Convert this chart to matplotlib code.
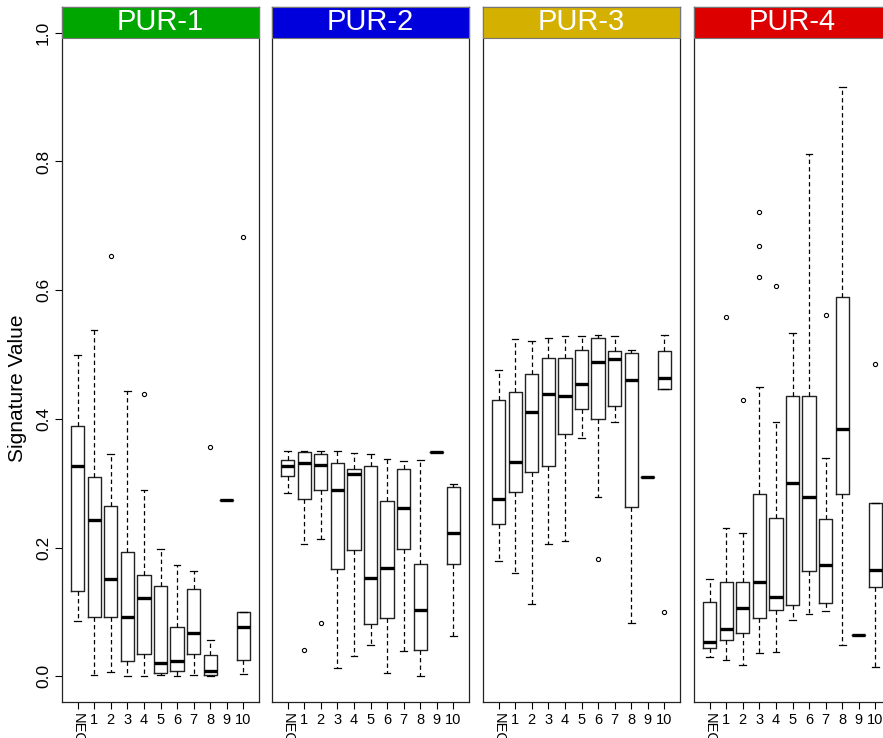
import matplotlib
matplotlib.use("Agg")
import matplotlib.pyplot as plt
from matplotlib.patches import Rectangle

plt.rcParams['font.family'] = ['Liberation Sans', 'DejaVu Sans']

categories = ["NEC", "1", "2", "3", "4", "5", "6", "7", "8", "9", "10"]
panel_titles = ["PUR-1", "PUR-2", "PUR-3", "PUR-4"]
panel_colors = ["#00A600", "#0000DD", "#D4B000", "#DD0000"]

# box stats: whisker low, q1, median, q3, whisker high
pur1_lo = [0.086, 0.002, 0.006, 0.000, 0.000, 0.002, 0.000, 0.002, 0.000, 0.274, 0.003]
pur1_q1 = [0.132, 0.092, 0.092, 0.024, 0.035, 0.005, 0.008, 0.035, 0.002, 0.274, 0.025]
pur1_med = [0.327, 0.243, 0.151, 0.092, 0.122, 0.020, 0.023, 0.068, 0.008, 0.274, 0.077]
pur1_q3 = [0.389, 0.310, 0.265, 0.193, 0.158, 0.141, 0.076, 0.136, 0.033, 0.274, 0.100]
pur1_hi = [0.499, 0.538, 0.346, 0.444, 0.290, 0.197, 0.173, 0.163, 0.056, 0.274, 0.100]
pur1_out = [[], [], [0.653], [], [0.438], [], [], [], [0.357], [], [0.683]]

pur2_lo = [0.285, 0.206, 0.214, 0.0135, 0.031, 0.048, 0.005, 0.040, 0.000, 0.349, 0.062]
pur2_q1 = [0.311, 0.276, 0.289, 0.167, 0.196, 0.081, 0.090, 0.198, 0.041, 0.349, 0.175]
pur2_med = [0.327, 0.332, 0.328, 0.289, 0.314, 0.152, 0.168, 0.262, 0.103, 0.349, 0.223]
pur2_q3 = [0.336, 0.348, 0.345, 0.332, 0.322, 0.326, 0.272, 0.322, 0.175, 0.349, 0.294]
pur2_hi = [0.350, 0.350, 0.350, 0.350, 0.347, 0.345, 0.338, 0.335, 0.336, 0.349, 0.298]
pur2_out = [[], [0.041], [0.083], [], [], [], [], [], [], [], []]

pur3_lo = [0.179, 0.161, 0.112, 0.206, 0.210, 0.370, 0.278, 0.395, 0.083, 0.310, 0.447]
pur3_q1 = [0.237, 0.286, 0.317, 0.327, 0.376, 0.415, 0.399, 0.420, 0.263, 0.310, 0.447]
pur3_med = [0.275, 0.333, 0.411, 0.438, 0.435, 0.454, 0.488, 0.493, 0.461, 0.310, 0.463]
pur3_q3 = [0.429, 0.442, 0.470, 0.495, 0.494, 0.507, 0.525, 0.505, 0.503, 0.310, 0.506]
pur3_hi = [0.476, 0.524, 0.521, 0.526, 0.529, 0.529, 0.530, 0.529, 0.507, 0.310, 0.530]
pur3_out = [[], [], [], [], [], [], [0.182], [], [], [], [0.100]]

pur4_lo = [0.030, 0.026, 0.017, 0.036, 0.037, 0.087, 0.096, 0.101, 0.048, 0.064, 0.015]
pur4_q1 = [0.044, 0.057, 0.067, 0.090, 0.103, 0.111, 0.163, 0.114, 0.284, 0.064, 0.139]
pur4_med = [0.054, 0.073, 0.106, 0.147, 0.123, 0.300, 0.278, 0.173, 0.385, 0.064, 0.165]
pur4_q3 = [0.116, 0.146, 0.146, 0.283, 0.246, 0.435, 0.435, 0.244, 0.589, 0.064, 0.269]
pur4_hi = [0.151, 0.230, 0.223, 0.449, 0.395, 0.534, 0.812, 0.339, 0.916, 0.064, 0.269]
pur4_out = [[], [0.559], [0.429], [0.620, 0.668, 0.721], [0.607], [], [], [0.561], [], [], [0.486]]

panels = [
    (pur1_lo, pur1_q1, pur1_med, pur1_q3, pur1_hi, pur1_out),
    (pur2_lo, pur2_q1, pur2_med, pur2_q3, pur2_hi, pur2_out),
    (pur3_lo, pur3_q1, pur3_med, pur3_q3, pur3_hi, pur3_out),
    (pur4_lo, pur4_q1, pur4_med, pur4_q3, pur4_hi, pur4_out),
]

W, H = 883, 738
fig = plt.figure(figsize=(W / 100, H / 100), dpi=100)

# panel left edges in pixels; last panel runs past the right edge like the original
lefts = [62, 272, 483, 694]
pw = 197
bottom_px, top_px = 702, 7
positions = list(range(1, len(categories) + 1))

for k, (lo, q1, med, q3, hi, out) in enumerate(panels):
    ax = fig.add_axes([lefts[k] / W, 1 - bottom_px / H, pw / W, (bottom_px - top_px) / H])
    stats = []
    for i in range(len(categories)):
        stats.append(dict(whislo=lo[i], q1=q1[i], med=med[i], q3=q3[i],
                          whishi=hi[i], fliers=out[i]))
    ax.bxp(stats, positions=positions, widths=0.8, capwidths=0.4,
           boxprops=dict(color='#222222', lw=1.0),
           whiskerprops=dict(color='black', lw=0.9, linestyle=(0, (3.5, 2.5))),
           capprops=dict(color='black', lw=0.9),
           medianprops=dict(color='black', lw=2.4, solid_capstyle='butt'),
           flierprops=dict(marker='o', markersize=3, markerfacecolor='none',
                           markeredgecolor='black', markeredgewidth=0.8),
           manage_ticks=False)
    ax.set_xlim(0.06, 11.94)
    ax.set_ylim(-0.04, 1.04)

    ax.set_xticks(positions)
    ax.set_xticklabels(categories, fontsize=10.5)
    lab = ax.get_xticklabels()[0]
    lab.set_rotation(270)
    lab.set_va('top')
    ax.tick_params(axis='x', length=5, width=0.8, pad=3)

    if k == 0:
        ax.set_yticks([0.0, 0.2, 0.4, 0.6, 0.8, 1.0])
        ax.set_yticklabels(["0.0", "0.2", "0.4", "0.6", "0.8", "1.0"],
                           fontsize=12.5, rotation=90, va='center')
        ax.tick_params(axis='y', length=5, width=0.8, pad=3)
    else:
        ax.set_yticks([])

    for sp in ax.spines.values():
        sp.set_linewidth(0.9)
        sp.set_color('#222222')

    # coloured strip on top of each panel
    strip_h = 31 / (bottom_px - top_px)
    ax.add_patch(Rectangle((0, 1 - strip_h), 1, strip_h, transform=ax.transAxes,
                           facecolor=panel_colors[k], edgecolor='#777777', lw=0.8,
                           clip_on=False, zorder=5))
    ax.text(0.5, 1 - strip_h / 2, panel_titles[k], transform=ax.transAxes,
            ha='center', va='center', color='white', fontsize=21, zorder=6)

fig.text(18 / W, 1 - 388 / H, "Signature Value", rotation=90,
         ha='center', va='center', fontsize=15)

fig.savefig("out.png", dpi=100)
